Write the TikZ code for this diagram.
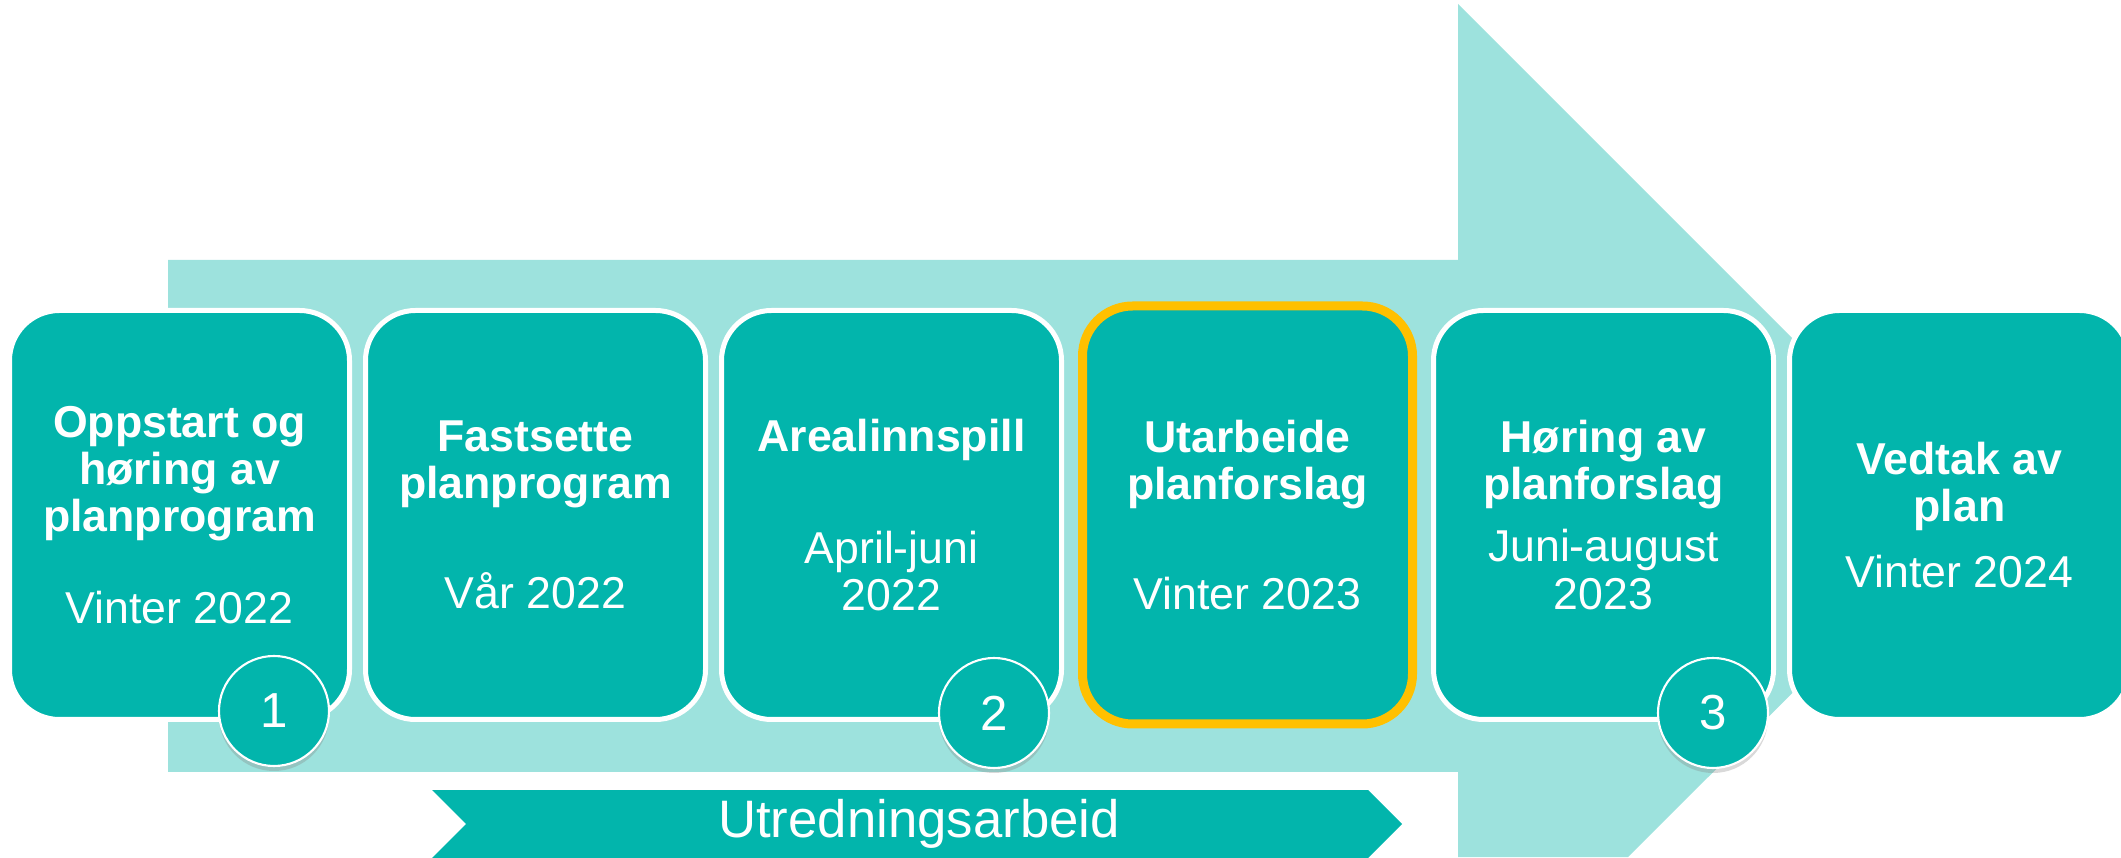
\documentclass[tikz,border=0pt]{standalone}
\usepackage{fontspec}
\setmainfont{Liberation Sans}
\usetikzlibrary{positioning, shadows}

\definecolor{planlight}{HTML}{9DE2DD}
\definecolor{planteal}{HTML}{02B5AC}
\definecolor{plangold}{HTML}{FFC000}

\tikzset{
    stage/.style={rectangle, rounded corners=0.5cm, fill=planteal, draw=white, line width=0.05cm,
        minimum width=3.40cm, minimum height=4.09cm, inner sep=0pt, outer sep=0pt,
        align=center, text=white, font=\fontsize{12.7}{13.4}\selectfont},
    current/.style={draw=plangold, line width=0.09cm, minimum width=3.30cm, minimum height=4.18cm,
        drop shadow={opacity=0.2, shadow xshift=0.02cm, shadow yshift=-0.03cm}},
    num/.style={circle, fill=planteal, draw=white, line width=0.6pt, minimum size=1.1cm, inner sep=0pt,
        text=white, font=\fontsize{14}{14}\selectfont,
        drop shadow={opacity=0.3, shadow xshift=0pt, shadow yshift=-0.05cm}},
}

\begin{document}
\begin{tikzpicture}[node distance=3.56cm, on grid]
    \useasboundingbox (0,0) rectangle (21.21,8.57);
    % big arrow behind the stages
    \fill[planlight] (1.68,5.97) -- (14.58,5.97) -- (14.58,8.53) -- (19.70,3.41) -- (16.28,0)
        -- (14.58,0) -- (14.58,0.85) -- (1.68,0.85) -- cycle;

    \node[stage](box1) at (1.795,3.42){\textbf{Oppstart og}\\\textbf{høring av}\\\textbf{planprogram}\\[0.44cm]Vinter 2022};
    \node[stage](box2)[right = of box1]{\textbf{Fastsette}\\\textbf{planprogram}\\[0.63cm]Vår 2022};
    \node[stage](box3)[right = of box2]{\textbf{Arealinnspill}\\[0.65cm]April-juni\\2022};
    \node[stage, current](box4)[right = of box3]{\textbf{Utarbeide}\\\textbf{planforslag}\\[0.63cm]Vinter 2023};
    \node[stage](box5)[right = of box4]{\textbf{Høring av}\\\textbf{planforslag}\\[0.15cm]Juni-august\\2023};
    \node[stage](box6)[right = of box5]{\textbf{Vedtak av}\\\textbf{plan}\\[0.18cm]Vinter 2024};

    \node[num](n1) at (2.74,1.46){1};
    \node[num](n2) at (9.94,1.44){2};
    \node[num](n3) at (17.13,1.44){3};

    % chevron below
    \fill[planteal] (4.32,0.67) -- (13.68,0.67) -- (14.02,0.33) -- (13.68,-0.01) -- (4.32,-0.01)
        -- (4.66,0.33) -- cycle;
    \node[text=white, font=\fontsize{15}{15}\selectfont](utredning) at (9.19,0.33){Utredningsarbeid};
\end{tikzpicture}
\end{document}
